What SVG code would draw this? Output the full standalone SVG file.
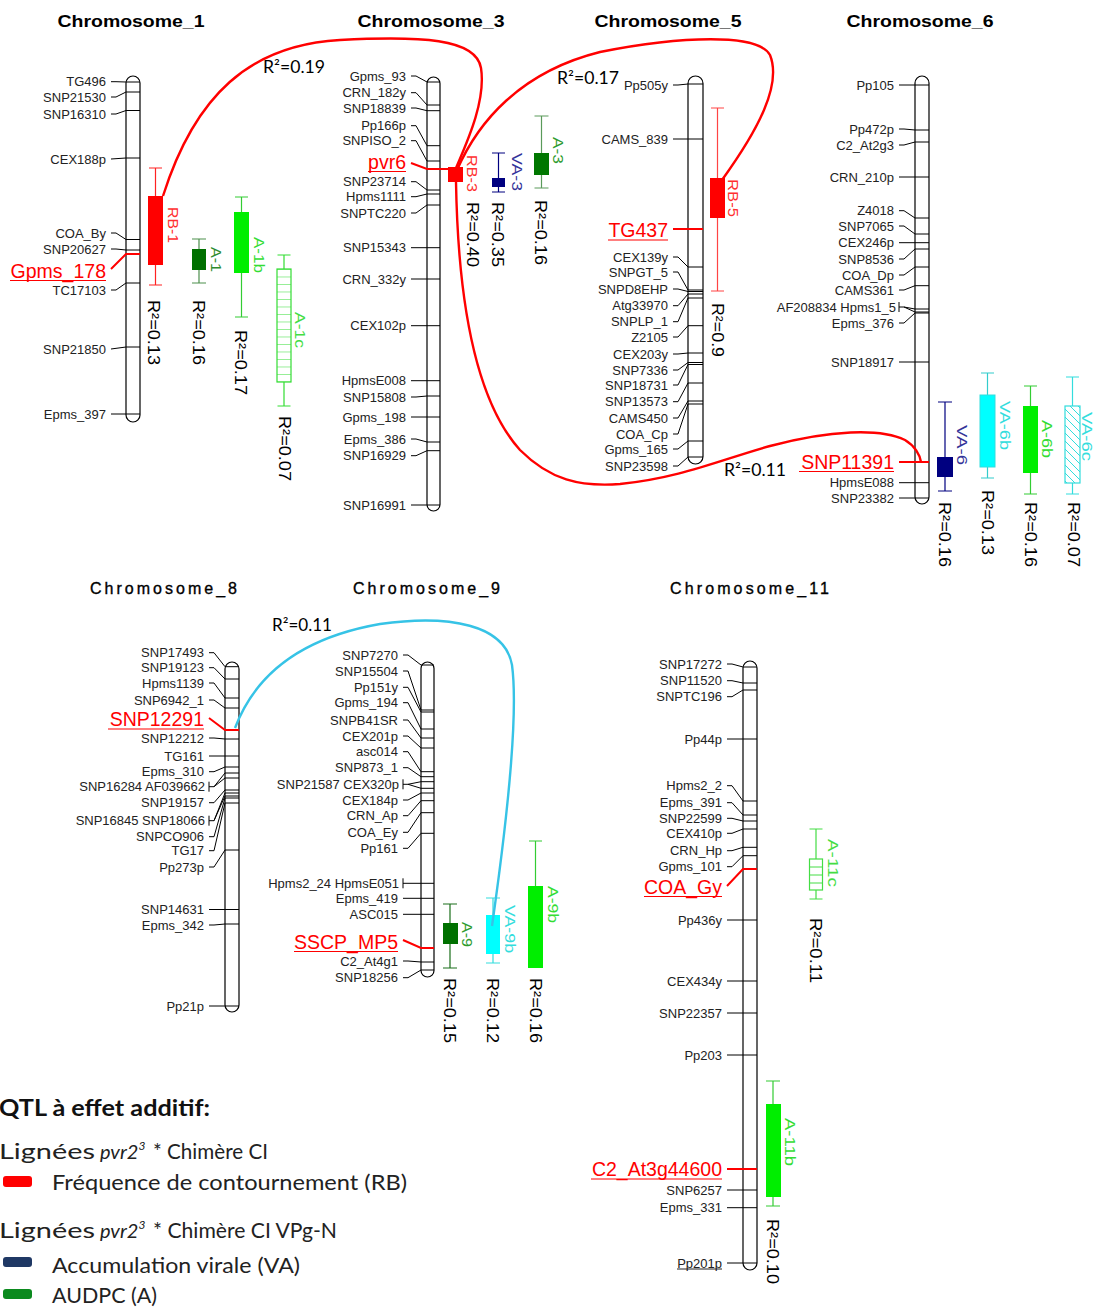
<svg xmlns="http://www.w3.org/2000/svg" width="1094" height="1311" viewBox="0 0 1094 1311">
<style>
.bg{fill:#fff}
.title{font-family:"Liberation Sans",Arial,sans-serif;font-weight:bold;font-size:17px;fill:#000}
.title2{font-family:"Liberation Sans",Arial,sans-serif;font-size:16px;fill:#000;stroke:#000;stroke-width:0.35}
.chrom{fill:#fff;stroke:#000;stroke-width:1.2}
.cn{fill:none;stroke:#000;stroke-width:1}
.rc{fill:none;stroke:#f00;stroke-width:2}
.lbl{font-family:"Liberation Sans",Arial,sans-serif;font-size:13px;fill:#222;text-anchor:end;dominant-baseline:central}
.rl{font-family:"Liberation Sans",Arial,sans-serif;font-size:19.5px;fill:#f00;text-anchor:end;dominant-baseline:central}
.ul{stroke:#f00;stroke-width:1.2}
.r2{font-family:"Liberation Sans",Arial,sans-serif;font-size:16px;fill:#000;dominant-baseline:central}
.ql{font-family:"Liberation Sans",Arial,sans-serif;font-size:14px;dominant-baseline:central}
.cr2{font-family:Lato,"Open Sans",sans-serif;font-size:17px;fill:#000}
.curve{fill:none;stroke:#f00;stroke-width:2.4}
.ccurve{fill:none;stroke:#36c3e6;stroke-width:2.4}
.leg{font-family:Lato,"Open Sans",sans-serif;font-size:22px;fill:#222}
.legi{font-family:Lato,"Open Sans",sans-serif;font-size:20px;font-style:italic;fill:#222}
.legh{font-family:Lato,"Open Sans",sans-serif;font-size:23px;font-weight:bold;fill:#111}
.sup{font-size:12px}
</style>
<defs>
<pattern id="hl" patternUnits="userSpaceOnUse" width="20" height="7.5" y="269">
<line x1="0" y1="0" x2="20" y2="0" stroke="#33dd33" stroke-width="1"/>
</pattern>
<pattern id="dg" patternUnits="userSpaceOnUse" width="8" height="8">
<path d="M0 0L8 8M-2 6L2 10M6 -2L10 2" stroke="#33dddd" stroke-width="1"/>
</pattern>
</defs>
<rect class="bg" x="0" y="0" width="1094" height="1311"/>

<g id="titles">
<text class="title" x="131" y="27" text-anchor="middle" textLength="147" lengthAdjust="spacingAndGlyphs">Chromosome_1</text>
<text class="title" x="431" y="27" text-anchor="middle" textLength="147" lengthAdjust="spacingAndGlyphs">Chromosome_3</text>
<text class="title" x="668" y="27" text-anchor="middle" textLength="147" lengthAdjust="spacingAndGlyphs">Chromosome_5</text>
<text class="title" x="920" y="27" text-anchor="middle" textLength="147" lengthAdjust="spacingAndGlyphs">Chromosome_6</text>
<text class="title2" x="163.5" y="594" text-anchor="middle" textLength="147" lengthAdjust="spacing">Chromosome_8</text>
<text class="title2" x="426.5" y="594" text-anchor="middle" textLength="147" lengthAdjust="spacing">Chromosome_9</text>
<text class="title2" x="749.5" y="594" text-anchor="middle" textLength="159" lengthAdjust="spacing">Chromosome_11</text>
</g>

<!-- Chromosome 1 -->
<g id="chr1">
<rect class="chrom" x="126" y="76" width="14" height="346" rx="7"/>
<path class="cn" d="M111 81.7h5L126 82H140M111 97h5L126 92H140M111 114h5L126 110.5H140M111 159L126 158H140M111 233h5L126 239.5H140M111 249h5L126 250H140M111 290h5L126 283H140M111 349L126 347H140M111 414H140"/>
<path class="rc" d="M111 269L126 254H140"/>
<text class="lbl" x="106" y="81.7">TG496</text>
<text class="lbl" x="106" y="97">SNP21530</text>
<text class="lbl" x="106" y="114">SNP16310</text>
<text class="lbl" x="106" y="159">CEX188p</text>
<text class="lbl" x="106" y="233">COA_By</text>
<text class="lbl" x="106" y="249">SNP20627</text>
<text class="lbl" x="106" y="290">TC17103</text>
<text class="lbl" x="106" y="349">SNP21850</text>
<text class="lbl" x="106" y="414">Epms_397</text>
<text class="rl" x="106" y="270.7">Gpms_178</text>
<line class="ul" x1="10" y1="280.5" x2="106" y2="280.5"/>
</g>

<g id="qtl-RB-1">
<path d="M155.5 168V285M149 168H162M149 285H162" stroke="#f22" stroke-width="1.2" fill="none"/>
<rect x="148" y="196" width="15" height="69" fill="#f00"/>
<text class="ql" fill="#ff3030" transform="translate(173,207) rotate(90)" textLength="36" lengthAdjust="spacingAndGlyphs">RB-1</text>
<text class="r2" transform="translate(153.5,300) rotate(90)" textLength="65" lengthAdjust="spacingAndGlyphs">R²=0.13</text>
</g>
<g id="qtl-A-1">
<path d="M199 239V283M192 239H206M192 283H206" stroke="#4d8f4d" stroke-width="1.2" fill="none"/>
<rect x="192" y="249" width="14" height="21" fill="#007000"/>
<text class="ql" fill="#2e8b2e" transform="translate(216,247) rotate(90)" textLength="25" lengthAdjust="spacingAndGlyphs">A-1</text>
<text class="r2" transform="translate(198,300) rotate(90)" textLength="65" lengthAdjust="spacingAndGlyphs">R²=0.16</text>
</g>
<g id="qtl-A-1b">
<path d="M241.5 197V317M235 197H248M235 317H248" stroke="#33cc33" stroke-width="1.2" fill="none"/>
<rect x="234" y="212" width="15" height="61" fill="#00ee00"/>
<text class="ql" fill="#33dd33" transform="translate(259,237) rotate(90)" textLength="36" lengthAdjust="spacingAndGlyphs">A-1b</text>
<text class="r2" transform="translate(240,330) rotate(90)" textLength="65" lengthAdjust="spacingAndGlyphs">R²=0.17</text>
</g>
<g id="qtl-A-1c">
<path d="M284 255V269M284 382V406M277.5 255H290.5M277.5 406H290.5" stroke="#33dd33" stroke-width="1.2" fill="none"/>
<rect x="277" y="269" width="14" height="113" fill="url(#hl)" stroke="#33dd33" stroke-width="1.2"/>
<text class="ql" fill="#44dd44" transform="translate(300,312) rotate(90)" textLength="36" lengthAdjust="spacingAndGlyphs">A-1c</text>
<text class="r2" transform="translate(284,416) rotate(90)" textLength="65" lengthAdjust="spacingAndGlyphs">R²=0.07</text>
</g>

<!-- Chromosome 3 -->
<g id="chr3">
<rect class="chrom" x="427" y="77" width="13" height="434" rx="6.5"/>
<path class="cn" d="M411 76h5L427 82H440M411 92.7h5L427 105H440M411 108h5L427 110.7H440M411 125.7h5L427 145.7H440M411 140.7h5L427 161H440M411 181.7h5L427 190H440M411 196.7h5L427 194H440M411 213h5L427 205H440M411 247.7H440M411 279H440M411 325.7H440M411 380.7H440M411 397h5L427 396H440M411 417H440M411 439h5L427 442H440M411 455.7h5L427 450.7H440M411 505H440"/>
<path class="rc" d="M411 163L427 169H448"/>
<text class="lbl" x="406" y="76">Gpms_93</text>
<text class="lbl" x="406" y="92.7">CRN_182y</text>
<text class="lbl" x="406" y="108">SNP18839</text>
<text class="lbl" x="406" y="125.7">Pp166p</text>
<text class="lbl" x="406" y="140.7">SNPISO_2</text>
<text class="lbl" x="406" y="181.7">SNP23714</text>
<text class="lbl" x="406" y="196.7">Hpms1111</text>
<text class="lbl" x="406" y="213">SNPTC220</text>
<text class="lbl" x="406" y="247.7">SNP15343</text>
<text class="lbl" x="406" y="279">CRN_332y</text>
<text class="lbl" x="406" y="325.7">CEX102p</text>
<text class="lbl" x="406" y="380.7">HpmsE008</text>
<text class="lbl" x="406" y="397">SNP15808</text>
<text class="lbl" x="406" y="417">Gpms_198</text>
<text class="lbl" x="406" y="439">Epms_386</text>
<text class="lbl" x="406" y="455.7">SNP16929</text>
<text class="lbl" x="406" y="505">SNP16991</text>
<text class="rl" x="406" y="161.7">pvr6</text>
<line class="ul" x1="368" y1="171.5" x2="406" y2="171.5"/>
</g>

<g id="qtl-RB-3">
<rect x="448" y="167" width="15" height="15" fill="#f00"/>
<text class="ql" fill="#ff3030" transform="translate(472,155) rotate(90)" textLength="37" lengthAdjust="spacingAndGlyphs">RB-3</text>
<text class="r2" transform="translate(472,202) rotate(90)" textLength="65" lengthAdjust="spacingAndGlyphs">R²=0.40</text>
</g>
<g id="qtl-VA-3">
<path d="M498.5 153V192M492 153H505M492 192H505" stroke="#000080" stroke-width="1.2" fill="none"/>
<rect x="492" y="178" width="13" height="9" fill="#000080"/>
<text class="ql" fill="#333399" transform="translate(517,153) rotate(90)" textLength="38" lengthAdjust="spacingAndGlyphs">VA-3</text>
<text class="r2" transform="translate(497,202) rotate(90)" textLength="65" lengthAdjust="spacingAndGlyphs">R²=0.35</text>
</g>
<g id="qtl-A-3">
<path d="M541.5 116V188M534.5 116H548.5M534.5 188H548.5" stroke="#5a9a5a" stroke-width="1.2" fill="none"/>
<rect x="534" y="153" width="15" height="22" fill="#007700"/>
<text class="ql" fill="#2e9b2e" transform="translate(558,137) rotate(90)" textLength="27" lengthAdjust="spacingAndGlyphs">A-3</text>
<text class="r2" transform="translate(540,200) rotate(90)" textLength="65" lengthAdjust="spacingAndGlyphs">R²=0.16</text>
</g>

<!-- Chromosome 5 -->
<g id="chr5">
<rect class="chrom" x="688" y="76" width="15" height="388" rx="7.5"/>
<path class="cn" d="M673 85h5L688 84H703M673 139H703M673 257h5L688 267H703M673 272h5L688 290H703M673 289h5L688 291.5H703M673 305.7h5L688 294H703M673 321.7h5L688 298H703M673 337h5L688 325.7H703M673 354h5L688 353H703M673 370h5L688 362.5H703M673 385h5L688 364.5H703M673 401.7h5L688 383H703M673 418h5L688 401H703M673 434h5L688 404H703M673 449h5L688 441H703M673 466h5L688 457H703"/>
<path class="rc" d="M673 229H703"/>
<text class="lbl" x="668" y="85">Pp505y</text>
<text class="lbl" x="668" y="139">CAMS_839</text>
<text class="lbl" x="668" y="257">CEX139y</text>
<text class="lbl" x="668" y="272">SNPGT_5</text>
<text class="lbl" x="668" y="289">SNPD8EHP</text>
<text class="lbl" x="668" y="305.7">Atg33970</text>
<text class="lbl" x="668" y="321.7">SNPLP_1</text>
<text class="lbl" x="668" y="337">Z2105</text>
<text class="lbl" x="668" y="354">CEX203y</text>
<text class="lbl" x="668" y="370">SNP7336</text>
<text class="lbl" x="668" y="385">SNP18731</text>
<text class="lbl" x="668" y="401.7">SNP13573</text>
<text class="lbl" x="668" y="418">CAMS450</text>
<text class="lbl" x="668" y="434">COA_Cp</text>
<text class="lbl" x="668" y="449">Gpms_165</text>
<text class="lbl" x="668" y="466">SNP23598</text>
<text class="rl" x="668" y="230">TG437</text>
<line class="ul" x1="608" y1="240" x2="668" y2="240"/>
</g>

<g id="qtl-RB-5">
<path d="M717.5 108V291M711 108H724M711 291H724" stroke="#f44" stroke-width="1.2" fill="none"/>
<rect x="710" y="178" width="15" height="40" fill="#f00"/>
<text class="ql" fill="#ff3030" transform="translate(733,179) rotate(90)" textLength="38" lengthAdjust="spacingAndGlyphs">RB-5</text>
<text class="r2" transform="translate(717,303) rotate(90)" textLength="54" lengthAdjust="spacingAndGlyphs">R²=0.9</text>
</g>

<!-- Chromosome 6 -->
<g id="chr6">
<rect class="chrom" x="915" y="76" width="14" height="428" rx="7"/>
<path class="cn" d="M899 85H929M899 129h5L915 130H929M899 145h5L915 142H929M899 177H929M899 210.7h5L915 218H929M899 226h5L915 234H929M899 242.7H929M899 259h5L915 249H929M899 275h5L915 267H929M899 290h5L915 285.7H929M899 302V312M899 307h5L915 309H929M904 307L915 312H929M899 323h5L915 313H929M899 362H929M899 482.7H929M899 498H929"/>
<path class="rc" d="M899 462H929"/>
<text class="lbl" x="894" y="85">Pp105</text>
<text class="lbl" x="894" y="129">Pp472p</text>
<text class="lbl" x="894" y="145">C2_At2g3</text>
<text class="lbl" x="894" y="177">CRN_210p</text>
<text class="lbl" x="894" y="210.7">Z4018</text>
<text class="lbl" x="894" y="226">SNP7065</text>
<text class="lbl" x="894" y="242.7">CEX246p</text>
<text class="lbl" x="894" y="259">SNP8536</text>
<text class="lbl" x="894" y="275">COA_Dp</text>
<text class="lbl" x="894" y="290">CAMS361</text>
<text class="lbl" x="896" y="307">AF208834 Hpms1_5</text>
<text class="lbl" x="894" y="323">Epms_376</text>
<text class="lbl" x="894" y="362">SNP18917</text>
<text class="lbl" x="894" y="482.7">HpmsE088</text>
<text class="lbl" x="894" y="498">SNP23382</text>
<text class="rl" x="894" y="461.7">SNP11391</text>
<line class="ul" x1="799" y1="471.5" x2="894" y2="471.5"/>
</g>

<g id="qtl-VA-6">
<path d="M945 402V491M938 402H952M938 491H952" stroke="#000080" stroke-width="1.2" fill="none"/>
<rect x="937" y="457" width="16" height="20" fill="#000080"/>
<text class="ql" fill="#333399" transform="translate(962,425) rotate(90)" textLength="40" lengthAdjust="spacingAndGlyphs">VA-6</text>
<text class="r2" transform="translate(944,502) rotate(90)" textLength="65" lengthAdjust="spacingAndGlyphs">R²=0.16</text>
</g>
<g id="qtl-VA-6b">
<path d="M987.5 373V478M981 373H994M981 478H994" stroke="#33cccc" stroke-width="1.2" fill="none"/>
<rect x="980" y="395" width="15" height="72" fill="#00ffff" stroke="#33dddd"/>
<text class="ql" fill="#33dddd" transform="translate(1005,401) rotate(90)" textLength="49" lengthAdjust="spacingAndGlyphs">VA-6b</text>
<text class="r2" transform="translate(987,490) rotate(90)" textLength="65" lengthAdjust="spacingAndGlyphs">R²=0.13</text>
</g>
<g id="qtl-A-6b">
<path d="M1030.5 386V494M1024 386H1037M1024 494H1037" stroke="#33cc33" stroke-width="1.2" fill="none"/>
<rect x="1023" y="406" width="15" height="67" fill="#00ee00"/>
<text class="ql" fill="#33dd33" transform="translate(1047,420) rotate(90)" textLength="38" lengthAdjust="spacingAndGlyphs">A-6b</text>
<text class="r2" transform="translate(1030,502) rotate(90)" textLength="65" lengthAdjust="spacingAndGlyphs">R²=0.16</text>
</g>
<g id="qtl-VA-6c">
<path d="M1072.5 377V406M1072.5 483V494M1066 377H1079M1066 494H1079" stroke="#33dddd" stroke-width="1.2" fill="none"/>
<rect x="1065" y="406" width="15" height="77" fill="url(#dg)" stroke="#33dddd" stroke-width="1.2"/>
<text class="ql" fill="#33dddd" transform="translate(1087,412) rotate(90)" textLength="49" lengthAdjust="spacingAndGlyphs">VA-6c</text>
<text class="r2" transform="translate(1073,502) rotate(90)" textLength="65" lengthAdjust="spacingAndGlyphs">R²=0.07</text>
</g>

<!-- Chromosome 8 -->
<g id="chr8">
<rect class="chrom" x="225" y="662" width="14" height="350" rx="7"/>
<path class="cn" d="M209 652.7h5L225 666.7H239M209 667.7h5L225 679H239M209 683h5L225 698H239M209 700h5L225 708H239M209 738h5L225 739H239M209 756H239M209 771.7h5L225 767H239M209 781.7V791.7M209 786.7h5L225 773H239M214 786.7L225 778H239M209 802.7h5L225 790H239M209 815.7V825.7M209 820.7h5L225 793H239M214 820.7L225 796H239M209 836.7h5L225 798H239M209 850.7h5L225 803H239M209 867h5L225 850H239M209 909.5H239M209 925h5L225 924H239M209 1006H239"/>
<path class="rc" d="M209 718L225 730H239"/>
<text class="lbl" x="204" y="652.7">SNP17493</text>
<text class="lbl" x="204" y="667.7">SNP19123</text>
<text class="lbl" x="204" y="683">Hpms1139</text>
<text class="lbl" x="204" y="700">SNP6942_1</text>
<text class="lbl" x="204" y="738">SNP12212</text>
<text class="lbl" x="204" y="756">TG161</text>
<text class="lbl" x="204" y="771.7">Epms_310</text>
<text class="lbl" x="205" y="786.7">SNP16284 AF039662</text>
<text class="lbl" x="204" y="802.7">SNP19157</text>
<text class="lbl" x="205" y="820.7">SNP16845 SNP18066</text>
<text class="lbl" x="204" y="836.7">SNPCO906</text>
<text class="lbl" x="204" y="850.7">TG17</text>
<text class="lbl" x="204" y="867">Pp273p</text>
<text class="lbl" x="204" y="909">SNP14631</text>
<text class="lbl" x="204" y="925">Epms_342</text>
<text class="lbl" x="204" y="1006">Pp21p</text>
<text class="rl" x="204" y="719">SNP12291</text>
<line class="ul" x1="108" y1="729" x2="204" y2="729"/>
</g>

<!-- Chromosome 9 -->
<g id="chr9">
<rect class="chrom" x="421" y="662" width="13" height="315" rx="6.5"/>
<path class="cn" d="M403 655h5L421 665H434M403 671h5L421 710H434M403 687.3h5L421 712H434M403 702.7h5L421 729H434M403 720h5L421 738H434M403 736h5L421 748H434M403 751.7h5L421 771.7H434M403 767.7h5L421 776.7H434M403 779.3V789.3M403 784.3h5L421 781.7H434M408 784.3L421 788.3H434M403 800h5L421 793H434M403 815.7h5L421 800.7H434M403 832.3h5L421 812.7H434M403 848.3h5L421 833.3H434M403 878.3V888.3M403 883.3H434M403 898.3H434M403 914.3H434M403 961h5L421 962H434M403 977.7h5L421 970H434"/>
<path class="rc" d="M403 940L421 948H434"/>
<text class="lbl" x="398" y="655">SNP7270</text>
<text class="lbl" x="398" y="671">SNP15504</text>
<text class="lbl" x="398" y="687.3">Pp151y</text>
<text class="lbl" x="398" y="702.7">Gpms_194</text>
<text class="lbl" x="398" y="720">SNPB41SR</text>
<text class="lbl" x="398" y="736">CEX201p</text>
<text class="lbl" x="398" y="751.7">asc014</text>
<text class="lbl" x="398" y="767.7">SNP873_1</text>
<text class="lbl" x="399" y="784.3">SNP21587 CEX320p</text>
<text class="lbl" x="398" y="800">CEX184p</text>
<text class="lbl" x="398" y="815.7">CRN_Ap</text>
<text class="lbl" x="398" y="832.3">COA_Ey</text>
<text class="lbl" x="398" y="848.3">Pp161</text>
<text class="lbl" x="399" y="883.3">Hpms2_24 HpmsE051</text>
<text class="lbl" x="398" y="898.3">Epms_419</text>
<text class="lbl" x="398" y="914.3">ASC015</text>
<text class="lbl" x="398" y="961">C2_At4g1</text>
<text class="lbl" x="398" y="977.7">SNP18256</text>
<text class="rl" x="398" y="941.7">SSCP_MP5</text>
<line class="ul" x1="294" y1="951.5" x2="398" y2="951.5"/>
</g>

<g id="qtl-A-9">
<path d="M450 904V968M443 904H457M443 968H457" stroke="#1a6e1a" stroke-width="1.2" fill="none"/>
<rect x="443" y="923" width="15" height="21" fill="#007000"/>
<text class="ql" fill="#2e9b2e" transform="translate(467,922) rotate(90)" textLength="25" lengthAdjust="spacingAndGlyphs">A-9</text>
<text class="r2" transform="translate(449,978) rotate(90)" textLength="65" lengthAdjust="spacingAndGlyphs">R²=0.15</text>
</g>
<g id="qtl-VA-9b">
<path d="M493 898V963M486 898H500M486 963H500" stroke="#33dddd" stroke-width="1.2" fill="none"/>
<rect x="486" y="915" width="14" height="39" fill="#00ffff"/>
<text class="ql" fill="#33dddd" transform="translate(510,905) rotate(90)" textLength="48" lengthAdjust="spacingAndGlyphs">VA-9b</text>
<text class="r2" transform="translate(492,978) rotate(90)" textLength="65" lengthAdjust="spacingAndGlyphs">R²=0.12</text>
</g>
<g id="qtl-A-9b">
<path d="M535.5 841V968M529 841H542" stroke="#33cc33" stroke-width="1.2" fill="none"/>
<rect x="528" y="886" width="15" height="82" fill="#00ee00"/>
<text class="ql" fill="#33dd33" transform="translate(553,886) rotate(90)" textLength="37" lengthAdjust="spacingAndGlyphs">A-9b</text>
<text class="r2" transform="translate(535,978) rotate(90)" textLength="65" lengthAdjust="spacingAndGlyphs">R²=0.16</text>
</g>

<!-- Chromosome 11 -->
<g id="chr11">
<rect class="chrom" x="743" y="661" width="14" height="609" rx="7"/>
<path class="cn" d="M727 664h5L743 667H757M727 680.7h5L743 683H757M727 696.7h5L743 690H757M727 739H757M727 785.7h5L743 801H757M727 802.7h5L743 815H757M727 818.3h5L743 821H757M727 833.3h5L743 829H757M727 850.7h5L743 847.3H757M727 866.7h5L743 855.7H757M727 920H757M727 981H757M727 1013H757M727 1055H757M727 1190H757M727 1207.7H757M727 1263H757"/>
<path class="rc" d="M727 886L743 869H757M727 1169H757"/>
<text class="lbl" x="722" y="664">SNP17272</text>
<text class="lbl" x="722" y="680.7">SNP11520</text>
<text class="lbl" x="722" y="696.7">SNPTC196</text>
<text class="lbl" x="722" y="739">Pp44p</text>
<text class="lbl" x="722" y="785.7">Hpms2_2</text>
<text class="lbl" x="722" y="802.7">Epms_391</text>
<text class="lbl" x="722" y="818.3">SNP22599</text>
<text class="lbl" x="722" y="833.3">CEX410p</text>
<text class="lbl" x="722" y="850.7">CRN_Hp</text>
<text class="lbl" x="722" y="866.7">Gpms_101</text>
<text class="lbl" x="722" y="920">Pp436y</text>
<text class="lbl" x="722" y="981">CEX434y</text>
<text class="lbl" x="722" y="1013">SNP22357</text>
<text class="lbl" x="722" y="1055">Pp203</text>
<text class="lbl" x="722" y="1190">SNP6257</text>
<text class="lbl" x="722" y="1207.7">Epms_331</text>
<text class="lbl" x="722" y="1263">Pp201p</text>
<line x1="677" y1="1269" x2="722" y2="1269" stroke="#222" stroke-width="1"/>
<text class="rl" x="722" y="886.7">COA_Gy</text>
<line class="ul" x1="644" y1="896.5" x2="722" y2="896.5"/>
<text class="rl" x="722" y="1169.3">C2_At3g44600</text>
<line class="ul" x1="591" y1="1179" x2="722" y2="1179"/>
</g>

<g id="qtl-A-11c">
<path d="M816 829V859M816 890V899M809.5 829H822.5M809.5 899H822.5" stroke="#44dd44" stroke-width="1.2" fill="none"/>
<rect x="809.5" y="859" width="13" height="31" fill="#fff" stroke="#44dd44" stroke-width="1.2"/>
<path d="M809.5 867H822.5M809.5 875H822.5M809.5 883H822.5" stroke="#44dd44" stroke-width="1"/>
<text class="ql" fill="#44dd44" transform="translate(833,839) rotate(90)" textLength="48" lengthAdjust="spacingAndGlyphs">A-11c</text>
<text class="r2" transform="translate(815,918) rotate(90)" textLength="65" lengthAdjust="spacingAndGlyphs">R²=0.11</text>
</g>
<g id="qtl-A-11b">
<path d="M773 1081V1206M766 1081H780M766 1206H780" stroke="#33cc33" stroke-width="1.2" fill="none"/>
<rect x="766" y="1104" width="15" height="93" fill="#00ee00"/>
<text class="ql" fill="#33dd33" transform="translate(790,1118) rotate(90)" textLength="48" lengthAdjust="spacingAndGlyphs">A-11b</text>
<text class="r2" transform="translate(772,1219) rotate(90)" textLength="65" lengthAdjust="spacingAndGlyphs">R²=0.10</text>
</g>

<g id="connectors">
<path class="curve" d="M163 196C195 95 250 45 340 40C420 36 476 38 481 68C486 100 468 140 456 168"/>
<path class="curve" d="M457 170C478 122 520 72 600 52C680 36 758 33 770 55C782 85 758 130 722 180"/>
<path class="curve" d="M456 182C458 300 475 400 520 450C550 480 580 487 620 484C680 478 720 460 770 446C830 430 880 428 905 440C915 446 920 455 921 462"/>
<path class="ccurve" d="M235 728C255 675 300 638 380 624C450 614 505 625 512 665C518 710 510 800 492 926"/>
<text class="cr2" x="263" y="73" textLength="62" lengthAdjust="spacingAndGlyphs">R²=0.19</text>
<text class="cr2" x="557" y="84" textLength="62" lengthAdjust="spacingAndGlyphs">R²=0.17</text>
<text class="cr2" x="724" y="476" textLength="62" lengthAdjust="spacingAndGlyphs">R²=0.11</text>
<text class="cr2" x="272" y="631" textLength="60" lengthAdjust="spacingAndGlyphs">R²=0.11</text>
</g>

<g id="legend">
<text class="legh" x="-1" y="1116" textLength="211" lengthAdjust="spacingAndGlyphs">QTL à effet additif:</text>
<text class="leg" x="-1" y="1159" textLength="96" lengthAdjust="spacingAndGlyphs">Lignées</text>
<text class="legi" x="100" y="1159">pvr2<tspan class="sup" dy="-9">3</tspan></text>
<text class="leg" x="153" y="1159" textLength="115" lengthAdjust="spacingAndGlyphs">* Chimère CI</text>
<rect x="3" y="1176" width="29" height="11" rx="3" fill="#f00"/>
<text class="leg" x="52" y="1190" textLength="355" lengthAdjust="spacingAndGlyphs">Fréquence de contournement (RB)</text>
<text class="leg" x="-1" y="1238" textLength="96" lengthAdjust="spacingAndGlyphs">Lignées</text>
<text class="legi" x="100" y="1238">pvr2<tspan class="sup" dy="-9">3</tspan></text>
<text class="leg" x="153" y="1238" textLength="184" lengthAdjust="spacingAndGlyphs">* Chimère CI VPg-N</text>
<rect x="3" y="1257" width="29" height="10" rx="3" fill="#1f3864"/>
<text class="leg" x="52" y="1273" textLength="248" lengthAdjust="spacingAndGlyphs">Accumulation virale (VA)</text>
<rect x="3" y="1289" width="29" height="10" rx="3" fill="#0b8a1e"/>
<text class="leg" x="52" y="1303" textLength="105" lengthAdjust="spacingAndGlyphs">AUDPC (A)</text>
</g>
</svg>
